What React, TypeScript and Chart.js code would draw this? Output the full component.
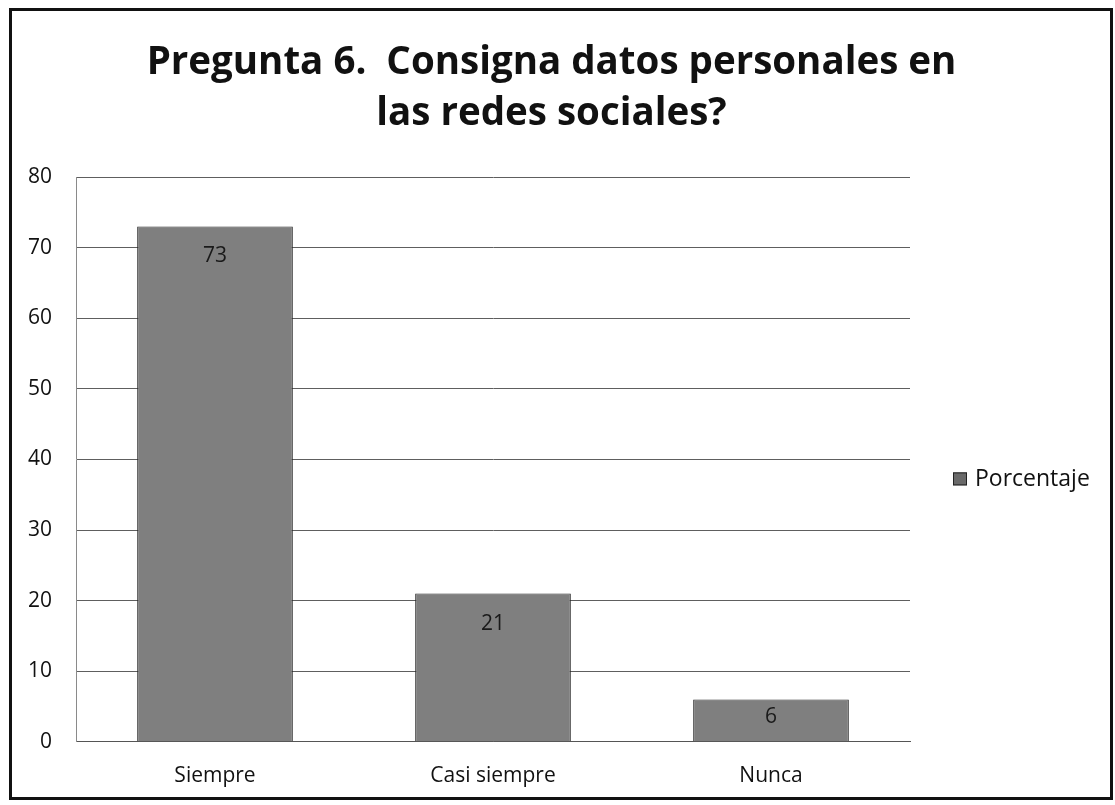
import React, { useEffect, useRef } from "react";
import { Chart, registerables } from "chart.js";

Chart.register(...registerables);

const categories = ["Siempre", "Casi siempre", "Nunca"];
const porcentaje = [73, 21, 6];
const seriesName = "Porcentaje";
const titleLines = ["Pregunta 6.  Consigna datos personales en", "las redes sociales?"];
const yTicks = { min: 0, max: 80, step: 10 };

const FONT = "'Open Sans', 'DejaVu Sans', sans-serif";
const BAR_FILL = "#7f7f7f";
const BAR_EDGE = "#2a2a2a";

const framePlugin = {
  id: "frame",
  afterDraw(chart: any) {
    const ctx = chart.ctx;
    ctx.save();
    ctx.strokeStyle = "#111";
    ctx.lineWidth = 3;
    ctx.strokeRect(10.5, 9.5, chart.width - 14, chart.height - 16);
    // title
    ctx.fillStyle = "#111";
    ctx.font = `bold 38.5px ${FONT}`;
    ctx.textAlign = "center";
    ctx.textBaseline = "alphabetic";
    const cx = chart.width / 2 - 6;
    ctx.fillText(titleLines[0], cx, 74);
    ctx.fillText(titleLines[1], cx, 125);
    ctx.restore();
  },
};

const labelsPlugin = {
  id: "barLabels",
  afterDatasetsDraw(chart: any) {
    const ctx = chart.ctx;
    const meta = chart.getDatasetMeta(0);
    const yScale = chart.scales.y;
    const base = yScale.getPixelForValue(0);
    ctx.save();
    ctx.font = `21px ${FONT}`;
    ctx.fillStyle = "#1a1a1a";
    ctx.textAlign = "center";
    ctx.textBaseline = "middle";
    meta.data.forEach((bar: any, i: number) => {
      const top = bar.y;
      const h = base - top;
      const y = h > 60 ? top + 30 : top + h / 2 - 4;
      ctx.fillText(String(chart.data.datasets[0].data[i]), bar.x, y);
    });
    // legend
    const area = chart.chartArea;
    const ly = (area.top + area.bottom) / 2 + 20;
    const lx = area.right + 43;
    ctx.fillStyle = "#6a6a6a";
    ctx.strokeStyle = "#222";
    ctx.lineWidth = 1;
    ctx.fillRect(lx, ly - 7, 14, 13);
    ctx.strokeRect(lx + 0.5, ly - 6.5, 13, 12);
    ctx.fillStyle = "#111";
    ctx.textAlign = "left";
    ctx.font = `23px ${FONT}`;
    ctx.fillText(seriesName, lx + 22, ly);
    ctx.restore();
  },
};

export default function App() {
  const ref = useRef<HTMLCanvasElement | null>(null);
  useEffect(() => {
    if (!ref.current) return;
    const chart = new Chart(ref.current, {
      type: "bar",
      data: {
        labels: categories,
        datasets: [
          {
            label: seriesName,
            data: porcentaje,
            backgroundColor: BAR_FILL,
            borderColor: BAR_EDGE,
            borderWidth: 1,
            barPercentage: 1,
            categoryPercentage: 0.56,
          },
        ],
      },
      options: {
        animation: false,
        responsive: false,
        maintainAspectRatio: false,
        layout: { padding: { top: 177, left: 20, right: 205, bottom: -6 } },
        plugins: {
          legend: { display: false },
          tooltip: { enabled: false },
          title: { display: false },
        },
        scales: {
          x: {
            grid: { display: false, drawTicks: false },
            border: { display: true, color: "#555", width: 1 },
            ticks: { color: "#111", font: { family: FONT, size: 21 }, padding: 22 },
          },
          y: {
            min: yTicks.min,
            max: yTicks.max,
            afterFit(scale: any) {
              scale.width = 56;
            },
            grid: { color: "#5e5e5e", lineWidth: 1, drawTicks: false },
            border: { display: true, color: "#8a8a8a", width: 1 },
            ticks: {
              stepSize: yTicks.step,
              color: "#111",
              font: { family: FONT, size: 21 },
              padding: 24,
            },
          },
        },
      },
      plugins: [framePlugin, labelsPlugin],
    });
    return () => chart.destroy();
  }, []);
  return (
    <div style={{ position: "absolute", left: 0, top: 0, width: 1115, height: 805, background: "#fff" }}>
      <canvas ref={ref} width={1115} height={805} style={{ display: "block" }} />
    </div>
  );
}
